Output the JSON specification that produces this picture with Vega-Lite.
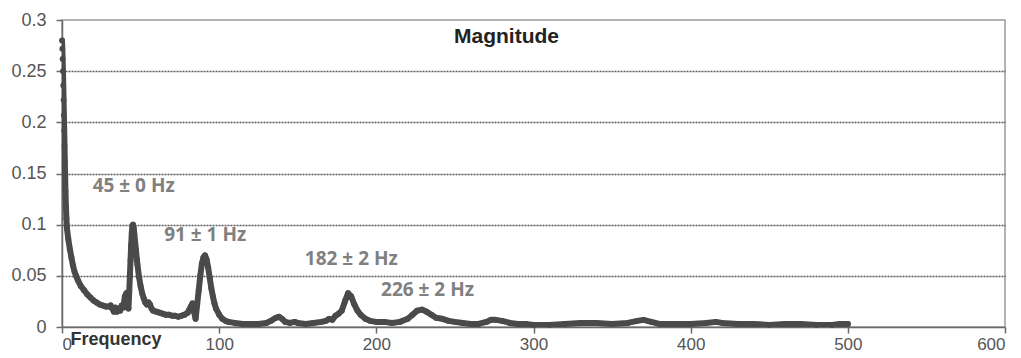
{
  "$schema": "https://vega.github.io/schema/vega-lite/v6.json",
  "width": 943,
  "height": 307,
  "autosize": {"type": "none"},
  "padding": {"left": 62, "top": 20, "right": 16, "bottom": 31},
  "background": "white",
  "title": {
    "text": "Magnitude",
    "font": "Liberation Sans",
    "fontSize": 21,
    "fontWeight": "bold",
    "color": "#222222",
    "anchor": "middle",
    "baseline": "alphabetic",
    "offset": 0,
    "dx": -27,
    "dy": 53
  },
  "config": {
    "view": {"stroke": "#9a9a9a", "strokeWidth": 1.5},
    "axis": {
      "labelFont": "Liberation Sans",
      "labelColor": "#555555",
      "domainColor": "#6a6a6a",
      "domainWidth": 1.5,
      "tickColor": "#6a6a6a",
      "tickWidth": 1.5
    }
  },
  "datasets": {
    "spectrum": [
      {"f": 0.0, "m": 0.280}, {"f": 0.2, "m": 0.272}, {"f": 0.4, "m": 0.262}, {"f": 0.6, "m": 0.250},
      {"f": 0.8, "m": 0.236}, {"f": 1.0, "m": 0.222}, {"f": 1.2, "m": 0.207}, {"f": 1.4, "m": 0.192},
      {"f": 1.6, "m": 0.177}, {"f": 1.8, "m": 0.162}, {"f": 2.0, "m": 0.147}, {"f": 2.2, "m": 0.133},
      {"f": 2.5, "m": 0.118}, {"f": 2.8, "m": 0.106}, {"f": 3.2, "m": 0.096}, {"f": 4.0, "m": 0.086},
      {"f": 5.0, "m": 0.076}, {"f": 6.0, "m": 0.068}, {"f": 7.0, "m": 0.060}, {"f": 8.0, "m": 0.054},
      {"f": 9.0, "m": 0.050}, {"f": 10.0, "m": 0.046}, {"f": 12.0, "m": 0.040}, {"f": 14.0, "m": 0.036},
      {"f": 16.0, "m": 0.032}, {"f": 18.0, "m": 0.029}, {"f": 20.0, "m": 0.026}, {"f": 22.0, "m": 0.024},
      {"f": 24.0, "m": 0.022}, {"f": 26.0, "m": 0.021}, {"f": 28.0, "m": 0.020}, {"f": 30.0, "m": 0.020},
      {"f": 31.0, "m": 0.021}, {"f": 32.0, "m": 0.018}, {"f": 33.0, "m": 0.015}, {"f": 34.0, "m": 0.019},
      {"f": 35.0, "m": 0.015}, {"f": 36.0, "m": 0.018}, {"f": 37.0, "m": 0.016}, {"f": 38.0, "m": 0.021},
      {"f": 39.0, "m": 0.019}, {"f": 40.0, "m": 0.030}, {"f": 41.0, "m": 0.033}, {"f": 41.8, "m": 0.026},
      {"f": 42.3, "m": 0.018}, {"f": 42.8, "m": 0.035}, {"f": 43.2, "m": 0.050}, {"f": 43.6, "m": 0.065},
      {"f": 44.0, "m": 0.080}, {"f": 44.4, "m": 0.092}, {"f": 44.8, "m": 0.099}, {"f": 45.2, "m": 0.100},
      {"f": 45.6, "m": 0.097}, {"f": 46.0, "m": 0.091}, {"f": 47.0, "m": 0.076}, {"f": 48.0, "m": 0.061},
      {"f": 49.0, "m": 0.049}, {"f": 50.0, "m": 0.040}, {"f": 51.0, "m": 0.033}, {"f": 52.0, "m": 0.028},
      {"f": 53.0, "m": 0.024}, {"f": 54.0, "m": 0.022}, {"f": 55.0, "m": 0.024}, {"f": 56.0, "m": 0.022},
      {"f": 57.0, "m": 0.018}, {"f": 58.0, "m": 0.016}, {"f": 60.0, "m": 0.015}, {"f": 62.0, "m": 0.014},
      {"f": 64.0, "m": 0.013}, {"f": 66.0, "m": 0.012}, {"f": 68.0, "m": 0.012}, {"f": 70.0, "m": 0.011},
      {"f": 72.0, "m": 0.011}, {"f": 74.0, "m": 0.010}, {"f": 76.0, "m": 0.011}, {"f": 78.0, "m": 0.012},
      {"f": 80.0, "m": 0.014}, {"f": 81.0, "m": 0.017}, {"f": 82.0, "m": 0.020}, {"f": 83.0, "m": 0.023},
      {"f": 84.0, "m": 0.015}, {"f": 85.0, "m": 0.008}, {"f": 86.0, "m": 0.022}, {"f": 87.0, "m": 0.036},
      {"f": 88.0, "m": 0.050}, {"f": 89.0, "m": 0.062}, {"f": 90.0, "m": 0.068}, {"f": 91.0, "m": 0.070},
      {"f": 92.0, "m": 0.066}, {"f": 93.0, "m": 0.058}, {"f": 94.0, "m": 0.048}, {"f": 95.0, "m": 0.038},
      {"f": 96.0, "m": 0.030}, {"f": 97.0, "m": 0.023}, {"f": 98.0, "m": 0.018}, {"f": 100.0, "m": 0.012},
      {"f": 102.0, "m": 0.008}, {"f": 104.0, "m": 0.006}, {"f": 106.0, "m": 0.005}, {"f": 110.0, "m": 0.004},
      {"f": 115.0, "m": 0.003}, {"f": 120.0, "m": 0.003}, {"f": 125.0, "m": 0.003}, {"f": 130.0, "m": 0.004},
      {"f": 133.0, "m": 0.006}, {"f": 136.0, "m": 0.009}, {"f": 138.0, "m": 0.010}, {"f": 140.0, "m": 0.008},
      {"f": 142.0, "m": 0.005}, {"f": 145.0, "m": 0.004}, {"f": 148.0, "m": 0.005}, {"f": 150.0, "m": 0.004},
      {"f": 155.0, "m": 0.003}, {"f": 160.0, "m": 0.004}, {"f": 165.0, "m": 0.005}, {"f": 168.0, "m": 0.006},
      {"f": 170.0, "m": 0.008}, {"f": 172.0, "m": 0.007}, {"f": 174.0, "m": 0.011}, {"f": 176.0, "m": 0.013},
      {"f": 178.0, "m": 0.016}, {"f": 180.0, "m": 0.025}, {"f": 182.0, "m": 0.033}, {"f": 184.0, "m": 0.030},
      {"f": 186.0, "m": 0.022}, {"f": 188.0, "m": 0.016}, {"f": 190.0, "m": 0.012}, {"f": 193.0, "m": 0.008},
      {"f": 196.0, "m": 0.006}, {"f": 200.0, "m": 0.005}, {"f": 205.0, "m": 0.005}, {"f": 210.0, "m": 0.004},
      {"f": 215.0, "m": 0.005}, {"f": 220.0, "m": 0.008}, {"f": 223.0, "m": 0.012}, {"f": 226.0, "m": 0.016},
      {"f": 229.0, "m": 0.017}, {"f": 232.0, "m": 0.015}, {"f": 235.0, "m": 0.012}, {"f": 238.0, "m": 0.009},
      {"f": 242.0, "m": 0.008}, {"f": 246.0, "m": 0.006}, {"f": 250.0, "m": 0.005}, {"f": 255.0, "m": 0.004},
      {"f": 260.0, "m": 0.003}, {"f": 265.0, "m": 0.003}, {"f": 270.0, "m": 0.005}, {"f": 273.0, "m": 0.007},
      {"f": 276.0, "m": 0.007}, {"f": 280.0, "m": 0.006}, {"f": 285.0, "m": 0.004}, {"f": 290.0, "m": 0.003},
      {"f": 295.0, "m": 0.003}, {"f": 300.0, "m": 0.002}, {"f": 310.0, "m": 0.002}, {"f": 320.0, "m": 0.003},
      {"f": 330.0, "m": 0.004}, {"f": 340.0, "m": 0.004}, {"f": 350.0, "m": 0.003}, {"f": 360.0, "m": 0.004},
      {"f": 366.0, "m": 0.006}, {"f": 370.0, "m": 0.007}, {"f": 375.0, "m": 0.005}, {"f": 380.0, "m": 0.003},
      {"f": 390.0, "m": 0.003}, {"f": 400.0, "m": 0.003}, {"f": 410.0, "m": 0.004}, {"f": 416.0, "m": 0.005},
      {"f": 420.0, "m": 0.004}, {"f": 430.0, "m": 0.003}, {"f": 440.0, "m": 0.003}, {"f": 450.0, "m": 0.002},
      {"f": 460.0, "m": 0.003}, {"f": 470.0, "m": 0.003}, {"f": 480.0, "m": 0.002}, {"f": 490.0, "m": 0.002},
      {"f": 495.0, "m": 0.003}, {"f": 500.0, "m": 0.003}
    ],
    "labels": [
      {"f": 19.5, "m": 0.138, "label": "45 ± 0 Hz"},
      {"f": 65.0, "m": 0.090, "label": "91 ± 1 Hz"},
      {"f": 154.5, "m": 0.066, "label": "182 ± 2 Hz"},
      {"f": 203.0, "m": 0.036, "label": "226 ± 2 Hz"}
    ]
  },
  "layer": [
    {
      "data": {"name": "spectrum"},
      "mark": {"type": "line", "color": "#4a4a4a", "strokeWidth": 6, "strokeJoin": "round", "strokeCap": "round", "clip": true},
      "encoding": {
        "x": {
          "field": "f",
          "type": "quantitative",
          "scale": {"domain": [0, 600], "nice": false},
          "axis": {
            "values": [0, 100, 200, 300, 400, 500, 600],
            "grid": false,
            "tickSize": 6,
            "labelFontSize": 17,
            "labelPadding": 3,
            "title": "Frequency",
            "titleFont": "Liberation Sans",
            "titleFontSize": 18,
            "titleFontWeight": "bold",
            "titleColor": "#333333",
            "titleAnchor": "start",
            "titleAlign": "left",
            "titleBaseline": "alphabetic",
            "titleX": 8,
            "titleY": 17
          }
        },
        "y": {
          "field": "m",
          "type": "quantitative",
          "scale": {"domain": [0, 0.3], "nice": false},
          "axis": {
            "values": [0, 0.05, 0.1, 0.15, 0.2, 0.25, 0.3],
            "format": "~g",
            "grid": true,
            "gridColor": "#4a4a4a",
            "gridWidth": 1.5,
            "gridDash": [2, 1],
            "gridOpacity": {"condition": {"test": "datum.value >= 0.3 || datum.value <= 0", "value": 0}, "value": 0.9},
            "tickSize": 6,
            "labelFontSize": 18,
            "labelPadding": 10,
            "title": null
          }
        }
      }
    },
    {
      "data": {"name": "spectrum"},
      "mark": {"type": "circle", "color": "#4a4a4a", "size": 34, "opacity": 1},
      "encoding": {
        "x": {"field": "f", "type": "quantitative"},
        "y": {"field": "m", "type": "quantitative"}
      }
    },
    {
      "data": {"name": "labels"},
      "mark": {"type": "text", "align": "left", "baseline": "middle", "font": "Open Sans", "fontSize": 19, "fontWeight": "bold", "color": "#808080"},
      "encoding": {
        "x": {"field": "f", "type": "quantitative"},
        "y": {"field": "m", "type": "quantitative"},
        "text": {"field": "label"}
      }
    }
  ]
}
